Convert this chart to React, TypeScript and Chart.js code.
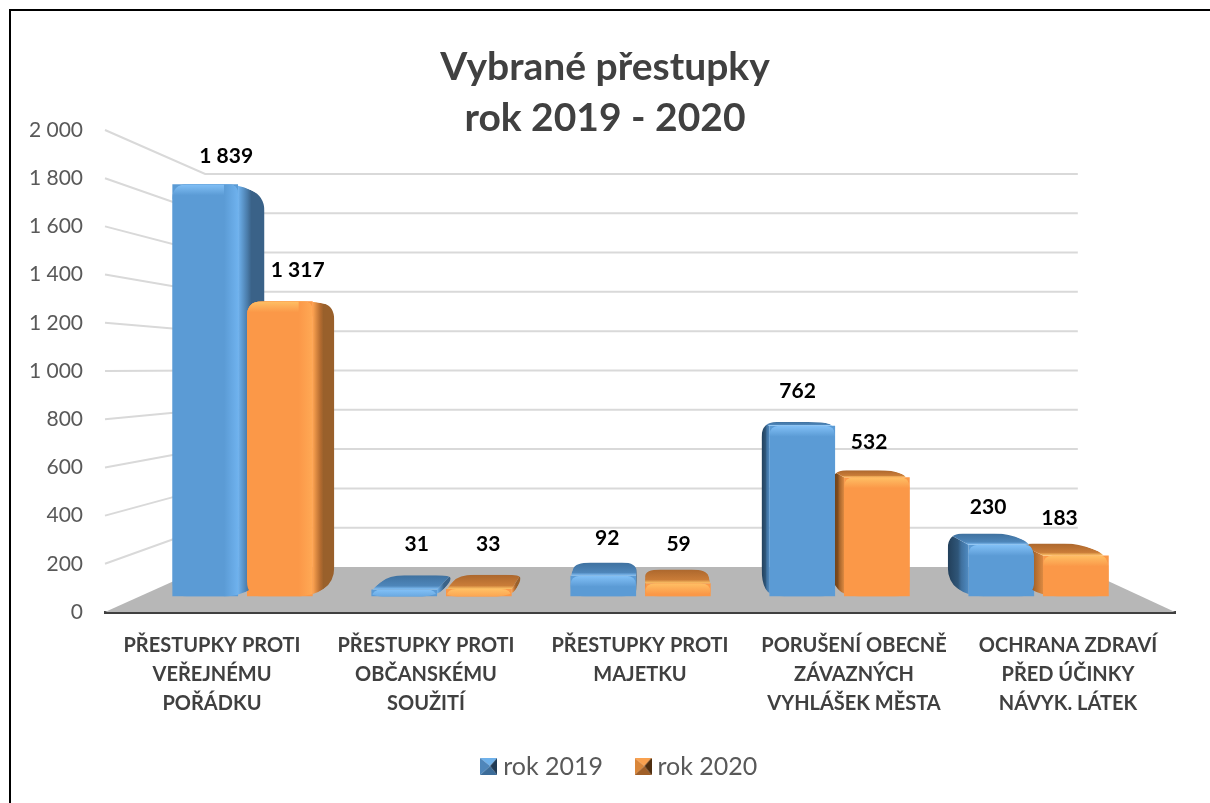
import React, { useEffect, useRef } from "react";
import { Chart, registerables } from "chart.js";

Chart.register(...registerables);

const categories = [
  ["PŘESTUPKY PROTI", "VEŘEJNÉMU", "POŘÁDKU"],
  ["PŘESTUPKY PROTI", "OBČANSKÉMU", "SOUŽITÍ"],
  ["PŘESTUPKY PROTI", "MAJETKU"],
  ["PORUŠENÍ OBECNĚ", "ZÁVAZNÝCH", "VYHLÁŠEK MĚSTA"],
  ["OCHRANA ZDRAVÍ", "PŘED ÚČINKY", "NÁVYK. LÁTEK"],
];
const values2019 = [1839, 31, 92, 762, 230];
const values2020 = [1317, 33, 59, 532, 183];
const seriesNames = ["rok 2019", "rok 2020"];
const titleLines = ["Vybrané přestupky", "rok 2019 - 2020"];

const FONT = "Lato, Carlito, Calibri, sans-serif";
const VP = { x: 648, y: 368 };
const K_WALL = 0.8156;
const K_FRONT = 0.93;
const K_BACK = 0.87;
const K_LABEL = 0.89;
const BAR_DY = 1.5;
const LEGEND_PAD = 38;

const BLUE = {
  front: "#5B9BD5",
  light: "#86C4FA",
  edge: "#6FB2EE",
  topBack: "#3F719F",
  topFront: "#4E86BA",
  sideRight: ["#6FB2EE", "#4A7CAA", "#3A6288", "#3A6288"],
  sideLeft: ["#4F8BC2", "#3F709E", "#2F5679", "#223F5A"],
};
const ORANGE = {
  front: "#FB9848",
  light: "#FFC468",
  edge: "#FFA955",
  topBack: "#AC672D",
  topFront: "#C97C38",
  sideRight: ["#FFA451", "#B56C30", "#99602B", "#99602B"],
  sideLeft: ["#DD8A42", "#A9662B", "#7E4B1E", "#633A14"],
};

type Pt = [number, number];
const proj = (x: number, y: number, k: number): Pt => [VP.x + (x - VP.x) * k, VP.y + (y - VP.y) * k];
const projBar = (x: number, y: number, k: number): Pt => {
  const p = proj(x, y, k);
  return [p[0], p[1] + BAR_DY];
};

function hull(points: Pt[]): Pt[] {
  const p = [...points].sort((a, b) => a[0] - b[0] || a[1] - b[1]);
  const cross = (o: Pt, a: Pt, b: Pt) => (a[0] - o[0]) * (b[1] - o[1]) - (a[1] - o[1]) * (b[0] - o[0]);
  const lo: Pt[] = [];
  for (const q of p) {
    while (lo.length >= 2 && cross(lo[lo.length - 2], lo[lo.length - 1], q) <= 0) lo.pop();
    lo.push(q);
  }
  const up: Pt[] = [];
  for (const q of [...p].reverse()) {
    while (up.length >= 2 && cross(up[up.length - 2], up[up.length - 1], q) <= 0) up.pop();
    up.push(q);
  }
  return lo.slice(0, -1).concat(up.slice(0, -1));
}

function roundedPath(ctx: CanvasRenderingContext2D, pts: Pt[], r: number) {
  const n = pts.length;
  ctx.beginPath();
  for (let i = 0; i < n; i++) {
    const a = pts[(i + n - 1) % n];
    const b = pts[i];
    const c = pts[(i + 1) % n];
    const la = Math.hypot(a[0] - b[0], a[1] - b[1]);
    const lc = Math.hypot(c[0] - b[0], c[1] - b[1]);
    const da = Math.min(r, la / 2);
    const dc = Math.min(r, lc / 2);
    const s: Pt = [b[0] + ((a[0] - b[0]) / la) * da, b[1] + ((a[1] - b[1]) / la) * da];
    const e: Pt = [b[0] + ((c[0] - b[0]) / lc) * dc, b[1] + ((c[1] - b[1]) / lc) * dc];
    if (i === 0) ctx.moveTo(s[0], s[1]);
    else ctx.lineTo(s[0], s[1]);
    ctx.quadraticCurveTo(b[0], b[1], e[0], e[1]);
  }
  ctx.closePath();
}

function poly(ctx: CanvasRenderingContext2D, pts: Pt[], fill: any) {
  ctx.beginPath();
  pts.forEach((p, i) => (i ? ctx.lineTo(p[0], p[1]) : ctx.moveTo(p[0], p[1])));
  ctx.closePath();
  ctx.fillStyle = fill;
  ctx.fill();
}

function drawBar3D(ctx: CanvasRenderingContext2D, el: any, pal: typeof BLUE) {
  const l = el.x - el.width / 2;
  const r = el.x + el.width / 2;
  const y = el.y;
  const b = el.base;
  const ftl = projBar(l, y, K_FRONT);
  const ftr = projBar(r, y, K_FRONT);
  const fbl = projBar(l, b, K_FRONT);
  const fbr = projBar(r, b, K_FRONT);
  const btl = projBar(l, y, K_BACK);
  const btr = projBar(r, y, K_BACK);
  const bbl = projBar(l, b, K_BACK);
  const bbr = projBar(r, b, K_BACK);

  ctx.save();
  roundedPath(ctx, hull([ftl, ftr, fbl, fbr, btl, btr, bbl, bbr]), 15);
  ctx.clip();

  const rightSide = el.x < VP.x;
  const sf = rightSide ? ftr : ftl;
  const sb = rightSide ? btr : btl;
  const sfb = rightSide ? fbr : fbl;
  const sbb = rightSide ? bbr : bbl;
  const stops = rightSide ? pal.sideRight : pal.sideLeft;
  const sg = ctx.createLinearGradient(sf[0], 0, sb[0], 0);
  sg.addColorStop(0, stops[0]);
  sg.addColorStop(0.35, stops[1]);
  sg.addColorStop(0.5, stops[2]);
  sg.addColorStop(1, stops[3]);
  poly(ctx, [sf, sfb, sbb, sb], sg);

  const topVisible = btl[1] < ftl[1];
  if (topVisible) {
    const tg = ctx.createLinearGradient(0, btl[1], 0, ftl[1]);
    tg.addColorStop(0, pal.topBack);
    tg.addColorStop(0.75, pal.topFront);
    tg.addColorStop(1, pal.light);
    poly(ctx, [ftl, ftr, btr, btl], tg);
  } else {
    // no top face in view: the rounded corner of the front shows the same shade as the side
    poly(ctx, [ftl, ftr, [ftr[0], ftr[1] + 15], [ftl[0], ftl[1] + 15]], pal.front);
  }

  // the front face with its rounded upper corners (the lower ones are cut by the outline)
  ctx.save();
  const low = 24;
  roundedPath(ctx, [ftl, ftr, [fbr[0], fbr[1] + low], [fbl[0], fbl[1] + low]], 10);
  ctx.clip();
  poly(ctx, [ftl, ftr, fbr, fbl], pal.front);

  const bevel = 11;
  const fg = ctx.createLinearGradient(0, ftl[1] - 1, 0, ftl[1] + bevel);
  fg.addColorStop(0, pal.light);
  fg.addColorStop(1, pal.front);
  poly(ctx, [ftl, ftr, [ftr[0], ftr[1] + bevel], [ftl[0], ftl[1] + bevel]], fg);

  // bevel beside the side face, only on tall bars
  if (rightSide && fbr[1] - ftr[1] > 40) {
    const eg = ctx.createLinearGradient(ftr[0] - 14, 0, ftr[0], 0);
    eg.addColorStop(0, pal.front);
    eg.addColorStop(1, pal.edge);
    poly(ctx, [[ftr[0] - 14, ftr[1]], ftr, fbr, [fbr[0] - 14, fbr[1]]], eg);
  }
  ctx.restore();
  ctx.restore();
}

function pyramidIcon(top: string, left: string, bottom: string, right: string) {
  const c = document.createElement("canvas");
  c.width = 17;
  c.height = 17;
  const g = c.getContext("2d") as CanvasRenderingContext2D;
  const m: Pt = [10, 8];
  poly(g, [[0, 0], [17, 0], m], top);
  poly(g, [[0, 0], [0, 17], m], left);
  poly(g, [[0, 17], [17, 17], m], bottom);
  poly(g, [[17, 0], [17, 17], m], right);
  return c;
}

const scene3D = {
  id: "scene3D",
  beforeDraw(chart: any) {
    const { ctx, width, height } = chart;
    ctx.save();
    ctx.fillStyle = "#FFFFFF";
    ctx.fillRect(0, 0, width, height);
    ctx.strokeStyle = "#000000";
    ctx.lineWidth = 2;
    ctx.beginPath();
    ctx.moveTo(10, height);
    ctx.lineTo(10, 10);
    ctx.lineTo(width, 10);
    ctx.stroke();
    ctx.restore();
  },
  afterLayout(chart: any) {
    const t = chart.titleBlock;
    if (t) {
      t.left = 0;
      t.right = chart.width;
      const h = t.bottom - t.top;
      t.top = 42;
      t.bottom = 42 + h;
    }
    const lg = chart.legend;
    if (lg) {
      lg.left = 34;
      lg.right = chart.width;
      const h = lg.bottom - lg.top;
      lg.top = 766 - LEGEND_PAD - 12;
      lg.bottom = lg.top + h;
    }
  },
  beforeDatasetsDraw(chart: any) {
    const { ctx, chartArea: a, scales } = chart;
    const ys = scales.y;
    ctx.save();
    poly(
      ctx,
      [
        [a.left, a.bottom],
        proj(a.left, a.bottom, K_WALL),
        proj(a.right, a.bottom, K_WALL),
        [a.right, a.bottom],
      ],
      "#B7B7B7"
    );
    ctx.strokeStyle = "#D9D9D9";
    ctx.lineWidth = 2;
    ys.ticks.forEach((t: any) => {
      if (t.value === 0) return;
      const py = ys.getPixelForValue(t.value);
      const bl = proj(a.left, py, K_WALL);
      const br = proj(a.right, py, K_WALL);
      ctx.beginPath();
      ctx.moveTo(a.left, py);
      ctx.lineTo(bl[0], bl[1]);
      ctx.lineTo(br[0], br[1]);
      ctx.stroke();
    });
    ctx.restore();
    // library bars are placed on the bars' own depth plane
    ctx.save();
    ctx.translate(VP.x, VP.y + BAR_DY);
    ctx.scale(K_FRONT, K_FRONT);
    ctx.translate(-VP.x, -VP.y);
  },
  afterDatasetsDraw(chart: any) {
    const { ctx } = chart;
    ctx.restore();
    const all: any[] = [];
    chart.data.datasets.forEach((ds: any, i: number) => {
      chart.getDatasetMeta(i).data.forEach((el: any, j: number) => {
        all.push({ el, pal: i === 0 ? BLUE : ORANGE, value: ds.data[j] });
      });
    });
    all.sort((p, q) => Math.abs(q.el.x - VP.x) - Math.abs(p.el.x - VP.x));
    all.forEach((b) => drawBar3D(ctx, b.el, b.pal));

    ctx.save();
    ctx.font = `bold 21px ${FONT}`;
    ctx.fillStyle = "#000000";
    ctx.textAlign = "center";
    ctx.textBaseline = "middle";
    all.forEach((b) => {
      const lx = VP.x + (b.el.x - VP.x) * K_LABEL + 2;
      const ly = Math.min(VP.y + (b.el.y - VP.y) * 0.905 - 31, 544);
      ctx.fillText(String(b.value).replace(/\B(?=(\d{3})+$)/g, " "), lx, ly);
    });
    ctx.restore();
  },
};

export default function App() {
  const ref = useRef<HTMLCanvasElement | null>(null);
  useEffect(() => {
    document.body.style.margin = "0";
    const icons = [
      pyramidIcon("#6FB1EA", "#4F86BA", "#3C6C99", "#1F3A55"),
      pyramidIcon("#F9A14F", "#D98639", "#A05F28", "#4F2E10"),
    ];
    const chart = new Chart(ref.current as HTMLCanvasElement, {
      type: "bar",
      data: {
        labels: categories,
        datasets: [
          { label: seriesNames[0], data: values2019, backgroundColor: BLUE.front },
          { label: seriesNames[1], data: values2020, backgroundColor: ORANGE.front },
        ],
      },
      plugins: [scene3D],
      options: {
        responsive: false,
        animation: false,
        datasets: { bar: { categoryPercentage: 0.75, barPercentage: 0.88 } },
        layout: { padding: { top: 28, right: 35, left: 0, bottom: 0 } },
        plugins: {
          tooltip: { enabled: false },
          title: {
            display: true,
            text: titleLines,
            color: "#404040",
            padding: 0,
            font: { family: FONT, size: 39, weight: "bold", lineHeight: 51 / 39 },
          },
          legend: {
            position: "bottom",
            labels: {
              color: "#595959",
              usePointStyle: true,
              pointStyleWidth: 4,
              padding: LEGEND_PAD,
              font: { family: FONT, size: 25 },
              generateLabels: (c: any) =>
                Chart.defaults.plugins.legend.labels
                  .generateLabels(c)
                  .map((it: any, i: number) => ({ ...it, pointStyle: icons[i] })),
            },
          },
        },
        scales: {
          x: {
            grid: { display: false, drawTicks: false },
            border: { display: true, color: "#404040", width: 3 },
            ticks: {
              autoSkip: false,
              maxRotation: 0,
              padding: 19,
              color: "#404040",
              font: { family: FONT, size: 20, weight: "bold", lineHeight: 1.45 },
            },
            afterFit(s: any) {
              s.height = 191 - (s.chart.legend ? s.chart.legend.height : 0);
            },
          },
          y: {
            min: 0,
            max: 2000,
            grid: { display: false, drawTicks: false },
            border: { display: false },
            ticks: {
              stepSize: 200,
              padding: 22,
              color: "#595959",
              font: { family: FONT, size: 21 },
              callback: (v: any) => String(v).replace(/\B(?=(\d{3})+$)/g, " "),
            },
            afterFit(s: any) {
              s.width = 105;
            },
          },
        },
      },
    } as any);
    return () => chart.destroy();
  }, []);
  return <canvas ref={ref} width={1210} height={803} style={{ display: "block" }} />;
}
